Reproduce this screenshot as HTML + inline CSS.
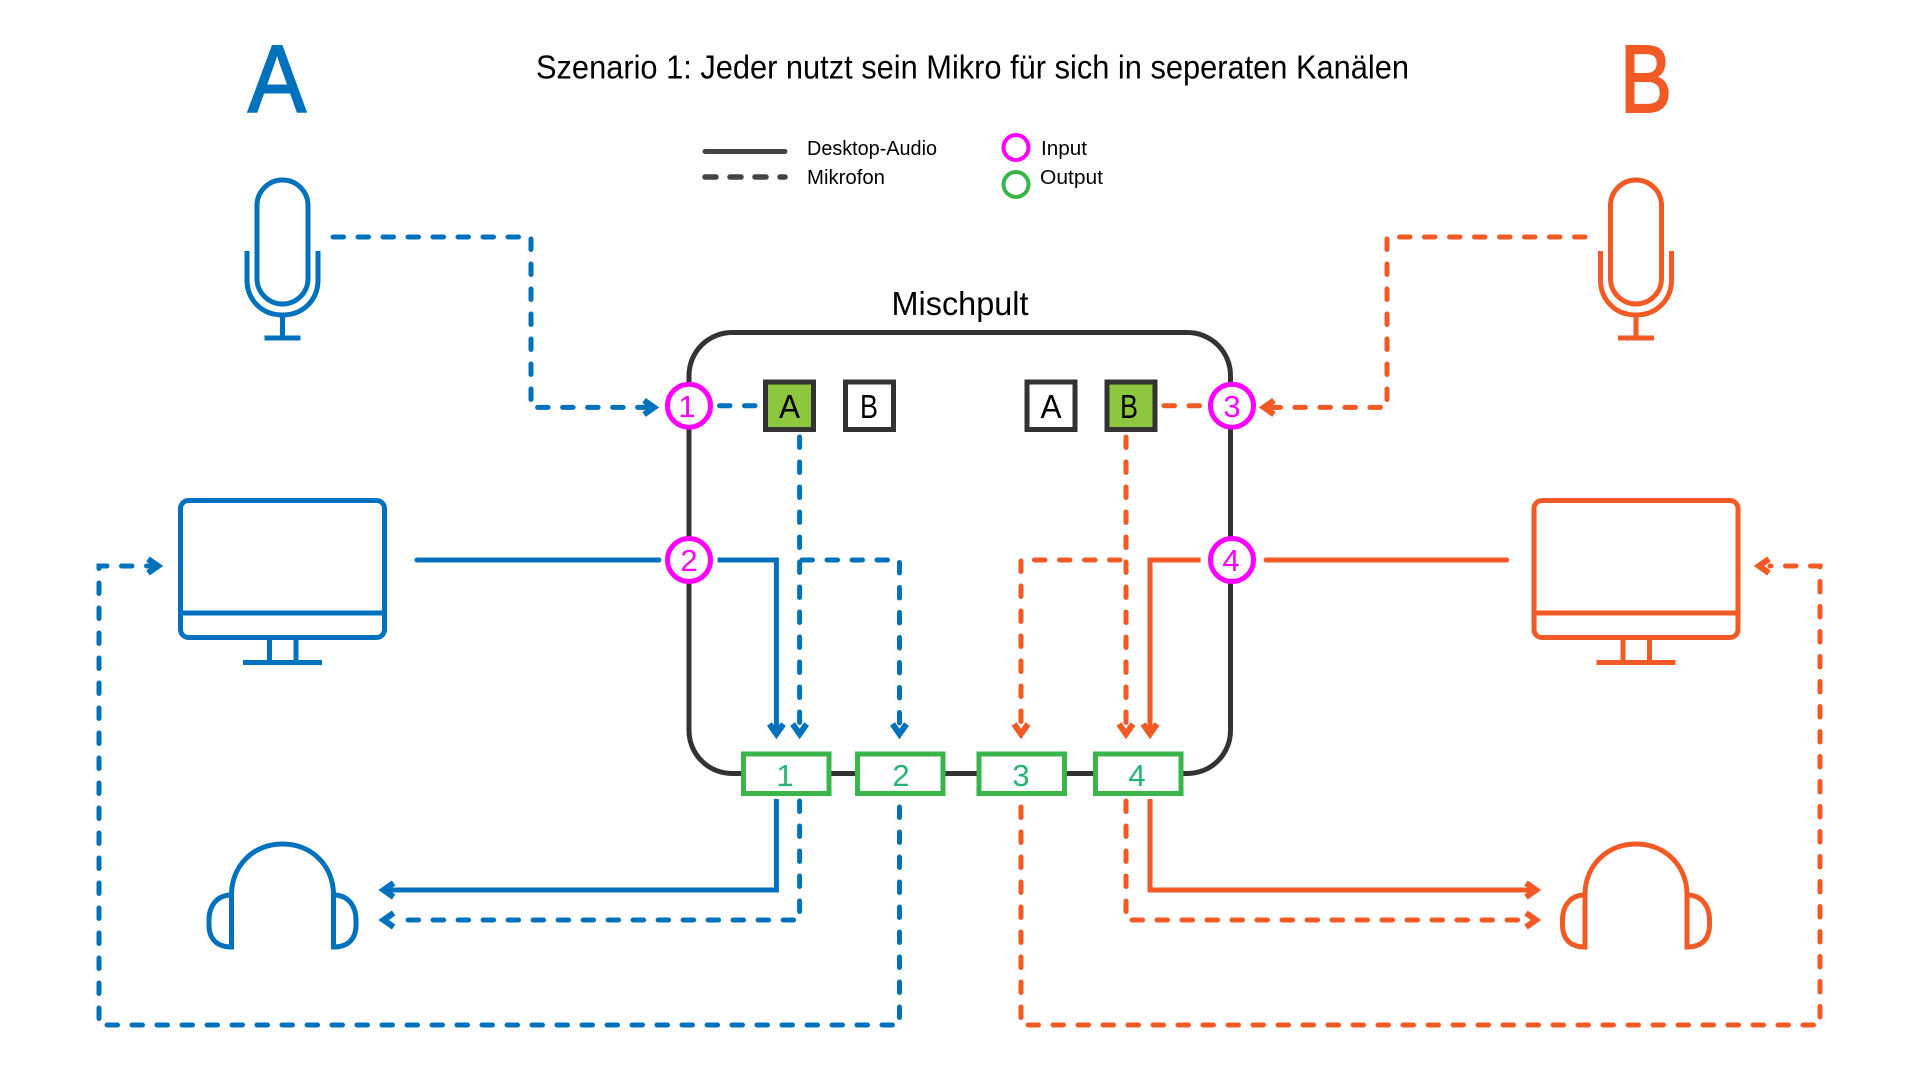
<!DOCTYPE html>
<html lang="de"><head><meta charset="utf-8"><title>Szenario 1</title>
<style>html,body{margin:0;padding:0;background:#fff}svg{display:block}text{font-family:"Liberation Sans",sans-serif}</style></head>
<body>
<svg xmlns="http://www.w3.org/2000/svg" width="1920" height="1080" viewBox="0 0 1920 1080">
<rect width="1920" height="1080" fill="#fff"/>

<!-- mixer -->
<rect x="689" y="332.5" width="541.5" height="441" rx="43" ry="43" fill="none" stroke="#333" stroke-width="5"/>

<!-- headings -->
<text x="248" y="112" font-size="96" fill="#0071bc" stroke="#0071bc" stroke-width="2" textLength="58" lengthAdjust="spacingAndGlyphs">A</text>
<text x="1620" y="112" font-size="96" fill="#f15a24" stroke="#f15a24" stroke-width="2" textLength="52" lengthAdjust="spacingAndGlyphs">B</text>
<text x="536" y="78.5" font-size="33" fill="#000" textLength="873" lengthAdjust="spacingAndGlyphs">Szenario 1: Jeder nutzt sein Mikro für sich in seperaten Kanälen</text>
<text x="891.5" y="315" font-size="33" fill="#000" textLength="137" lengthAdjust="spacingAndGlyphs">Mischpult</text>

<!-- legend -->
<line x1="705" y1="151.5" x2="785" y2="151.5" stroke="#444" stroke-width="5" stroke-linecap="round"/>
<line x1="705" y1="177" x2="785" y2="177" stroke="#444" stroke-width="5.5" stroke-linecap="round" stroke-dasharray="11 14"/>
<text x="807" y="155" font-size="20" fill="#000" textLength="130" lengthAdjust="spacingAndGlyphs">Desktop-Audio</text>
<text x="807" y="184" font-size="20" fill="#000" textLength="78" lengthAdjust="spacingAndGlyphs">Mikrofon</text>
<circle cx="1016" cy="147.5" r="12.5" fill="none" stroke="#ff00ff" stroke-width="4"/>
<circle cx="1016" cy="184.5" r="12.5" fill="none" stroke="#39b54a" stroke-width="4"/>
<text x="1041" y="155" font-size="20" fill="#000" textLength="46" lengthAdjust="spacingAndGlyphs">Input</text>
<text x="1040" y="184" font-size="20" fill="#000" textLength="63" lengthAdjust="spacingAndGlyphs">Output</text>

<!-- icons -->
<defs>
<g id="mic" fill="none" stroke-width="5">
  <rect x="257" y="180" width="51" height="124" rx="25.5" ry="25.5"/>
  <path d="M247 251V280C247 300 262 315 282.5 315C303 315 318 300 318 280V251"/>
  <path d="M282.5 315V338M264.5 338H300.5"/>
</g>
<g id="mon" fill="none" stroke-width="5">
  <rect x="180.5" y="500.5" width="204" height="137" rx="8" ry="8"/>
  <path d="M180.5 613H384.5M269.5 638V662M296 638V662M243 662.5H322"/>
</g>
<g id="hp" fill="none" stroke-width="5">
  <path d="M231.5 949.5V895C231.5 866 253 844 282.5 844C312 844 333.5 866 333.5 895V949.5"/>
  <path d="M231.5 895C216 895 209 907 209 920V925C209 938 216 947 231.5 947"/>
  <path d="M333.5 895C349 895 356 907 356 920V925C356 938 349 947 333.5 947"/>
</g>
</defs>
<g stroke="#0071bc">
  <use href="#mic"/><use href="#mon"/><use href="#hp"/>
</g>
<g stroke="#f15a24" transform="translate(1353.5 0)">
  <use href="#mic"/><use href="#mon"/><use href="#hp"/>
</g>

<!-- blue connectors -->
<g fill="none" stroke="#0071bc" stroke-width="5">
  <g stroke-dasharray="10.5 14.5" stroke-linecap="round">
    <path d="M333 237H531V407.4H648"/>
    <path d="M719.5 405.7H757"/>
    <path d="M799.6 437V730"/>
    <path d="M802 560H899.5V730"/>
    <path d="M799.6 801V920H395"/>
    <path d="M899.5 807V1025H99V566H150"/>
  </g>
  <path d="M717.6 560H776.4V732"/>
  <path d="M417 560H659" stroke-linecap="round"/>
  <path d="M776.4 799V890H385"/>
  <path d="M644 400.4L654 407.4L644 414.4M148 559L158 566L148 573M393.6 883L383.6 890L393.6 897M393.6 913L383.6 920L393.6 927M769.4 724L776.4 734L783.4 724M792.6 724L799.6 734L806.6 724M892.5 724L899.5 734L906.5 724" stroke-width="6"/>
</g>

<!-- orange connectors -->
<g fill="none" stroke="#f15a24" stroke-width="5">
  <g stroke-dasharray="10.5 14.5" stroke-linecap="round">
    <path d="M1585 237H1387V407.4H1272"/>
    <path d="M1164 405.7H1202"/>
    <path d="M1126 437V730"/>
    <path d="M1120 560H1021V730"/>
    <path d="M1126 801V920H1526"/>
    <path d="M1021 807V1025H1820V566H1770"/>
  </g>
  <path d="M1200.6 560H1150V732"/>
  <path d="M1266 560H1506.6" stroke-linecap="round"/>
  <path d="M1150 799V890H1534"/>
  <path d="M1274 400.4L1264 407.4L1274 414.4M1769 559L1759 566L1769 573M1526 883L1536 890L1526 897M1526 913L1536 920L1526 927M1014 724L1021 734L1028 724M1119 724L1126 734L1133 724M1143 724L1150 734L1157 724" stroke-width="6"/>
</g>

<!-- A/B boxes -->
<g stroke="#333" stroke-width="5">
  <rect x="765.5" y="382" width="48" height="47.5" fill="#8dc63f"/>
  <rect x="845.5" y="382" width="48" height="47.5" fill="#fff"/>
  <rect x="1027" y="382" width="48" height="47.5" fill="#fff"/>
  <rect x="1107" y="382" width="48" height="47.5" fill="#8dc63f"/>
</g>
<g font-size="33" fill="#000">
  <text x="779" y="418" textLength="21" lengthAdjust="spacingAndGlyphs">A</text>
  <text x="860" y="418" textLength="18" lengthAdjust="spacingAndGlyphs">B</text>
  <text x="1040.5" y="418" textLength="21" lengthAdjust="spacingAndGlyphs">A</text>
  <text x="1120" y="418" textLength="18" lengthAdjust="spacingAndGlyphs">B</text>
</g>

<!-- input circles -->
<g fill="#fff" stroke="#ff00ff" stroke-width="5">
  <circle cx="689" cy="405.7" r="21.5"/>
  <circle cx="689" cy="560" r="21.5"/>
  <circle cx="1232" cy="405.7" r="21.5"/>
  <circle cx="1232" cy="560" r="21.5"/>
</g>
<g font-size="31" fill="#ff00ff" text-anchor="middle">
  <text x="687" y="417">1</text>
  <text x="689" y="571">2</text>
  <text x="1232" y="417">3</text>
  <text x="1231" y="571">4</text>
</g>

<!-- output boxes -->
<g fill="#fff" stroke="#39b54a" stroke-width="5">
  <rect x="743.5" y="754" width="85.5" height="39.5"/>
  <rect x="857.5" y="754" width="85.5" height="39.5"/>
  <rect x="979" y="754" width="85.5" height="39.5"/>
  <rect x="1095.5" y="754" width="85.5" height="39.5"/>
</g>
<g font-size="31" fill="#22b573" text-anchor="middle">
  <text x="785" y="786">1</text>
  <text x="901" y="786">2</text>
  <text x="1021" y="786">3</text>
  <text x="1137" y="786">4</text>
</g>
</svg>
</body></html>
